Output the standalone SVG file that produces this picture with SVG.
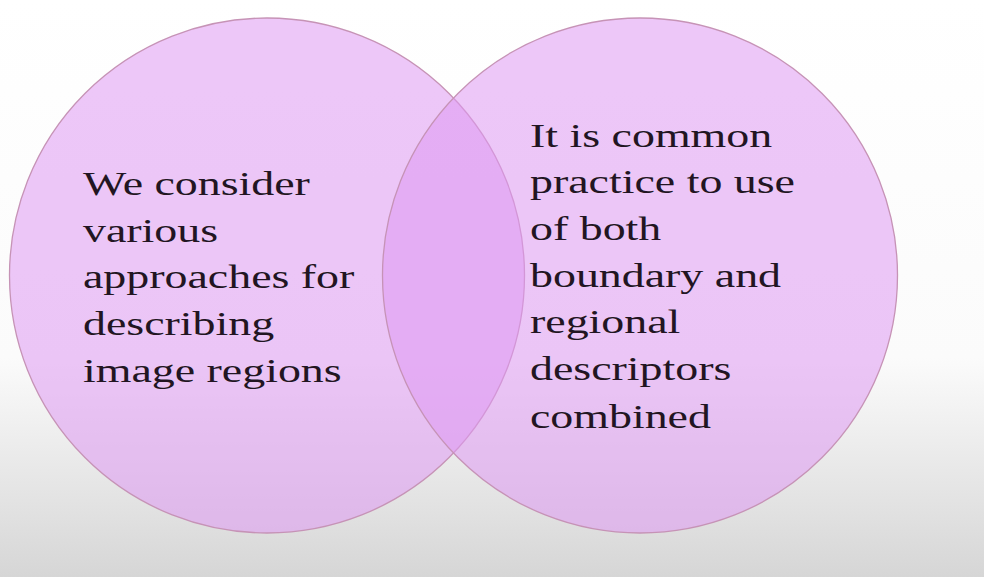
<svg xmlns="http://www.w3.org/2000/svg" width="984" height="577" viewBox="0 0 984 577">
<defs>
<linearGradient id="bg" x1="0" y1="0" x2="0" y2="1">
<stop offset="0" stop-color="#ffffff"/>
<stop offset="0.62" stop-color="#fbfbfb"/>
<stop offset="1" stop-color="#d6d6d6"/>
</linearGradient>
<style>
.c{fill:#de99f2;fill-opacity:0.55;stroke:#c693b6;stroke-width:1.3}
.t{font-family:"Liberation Serif","Times New Roman",serif;font-size:34px;fill:#221522}
</style>
</defs>
<rect x="0" y="0" width="984" height="577" fill="url(#bg)"/>
<g id="left">
<circle class="c" cx="267" cy="275.5" r="257.5"/>
<g transform="translate(83,0) scale(1.35,1)">
<text class="t" x="0" y="195">We consider</text>
<text class="t" x="0" y="242">various</text>
<text class="t" x="0" y="288">approaches for</text>
<text class="t" x="0" y="335">describing</text>
<text class="t" x="0" y="382">image regions</text>
</g>
</g>
<g id="right">
<circle class="c" cx="640" cy="275.5" r="257.5"/>
<g transform="translate(530,0) scale(1.35,1)">
<text class="t" x="0" y="147">It is common</text>
<text class="t" x="0" y="193">practice to use</text>
<text class="t" x="0" y="240">of both</text>
<text class="t" x="0" y="287">boundary and</text>
<text class="t" x="0" y="333">regional</text>
<text class="t" x="0" y="380">descriptors</text>
<text class="t" x="0" y="428">combined</text>
</g>
</g>
<g id="connectors"></g>
</svg>
